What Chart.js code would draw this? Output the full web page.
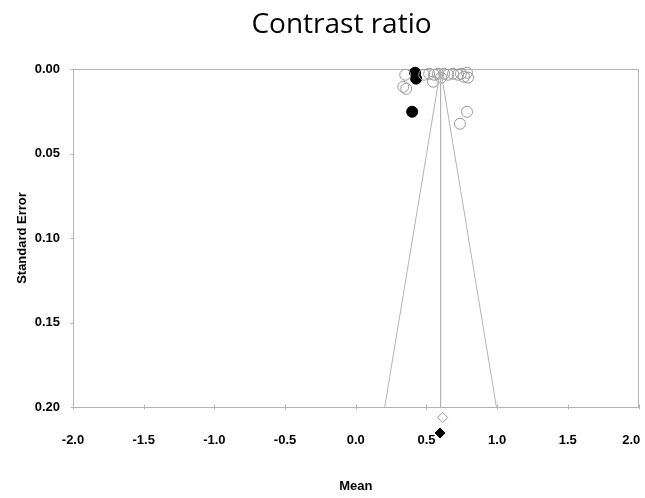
<!DOCTYPE html>
<html>
<head>
<meta charset="utf-8">
<script src="https://cdn.jsdelivr.net/npm/chart.js@4"></script>
<style>
  html, body { margin: 0; padding: 0; background: #fff; }
</style>
</head>
<body>
<canvas id="funnel" width="645" height="498"></canvas>
<script>
// studies (open circles)
const openMean = [0.350, 0.336, 0.357, 0.484, 0.519, 0.547, 0.554, 0.582, 0.603, 0.625, 0.653, 0.688, 0.723, 0.744, 0.766, 0.787, 0.794, 0.787, 0.737];
const openSE   = [0.0034, 0.0105, 0.0117, 0.0034, 0.0028, 0.0075, 0.0034, 0.0028, 0.0051, 0.0028, 0.0034, 0.0028, 0.0034, 0.0028, 0.0046, 0.0022, 0.0051, 0.0253, 0.0324];

// imputed studies (filled circles)
const filledMean = [0.420, 0.427, 0.399];
const filledSE   = [0.0022, 0.0057, 0.0253];

// pooled estimates (diamonds, below the axis)
const pooledOpen = [0.615, 0.2062];
const pooledFilled = [0.596, 0.2154];

// funnel: apex and both ends at SE 0.20
const funnelMean = [0.205, 0.600, 0.995];
const funnelSE = [0.20, 0.00, 0.20];
const centerLine = [0.600, 0.600];
const centerSE = [0.00, 0.20];

const xTicks = [-2.0, -1.5, -1.0, -0.5, 0.0, 0.5, 1.0, 1.5, 2.0];
const yTicks = [0.00, 0.05, 0.10, 0.15, 0.20];

const GREY = '#b3b3b3';
const tickFont = { family: 'Liberation Sans, Arial, sans-serif', size: 13, weight: 'bold' };

function pts(xs, ys) {
  return xs.map((v, i) => ({ x: v, y: ys[i] }));
}

// frame, small tick marks, and let points below the box be drawn
let savedArea = null;
const framePlugin = {
  id: 'frame',
  afterLayout(chart) {
    // title sits a bit right of centre in the original
    chart.titleBlock.left += 42;
  },
  beforeDatasetsDraw(chart) {
    const { ctx, chartArea: a, scales } = chart;
    const top = Math.round(a.top) + 0.5;
    const bottom = Math.round(a.bottom) + 0.5;
    const left = Math.round(a.left) + 0.5;
    const right = Math.round(a.right) - 0.5;
    ctx.save();
    ctx.strokeStyle = GREY;
    ctx.lineWidth = 1;
    ctx.strokeRect(left, top, right - left, bottom - top);
    ctx.beginPath();
    xTicks.forEach(t => {
      const px = Math.round(scales.x.getPixelForValue(t)) + 0.5;
      ctx.moveTo(px, bottom - 3);
      ctx.lineTo(px, bottom + 2);
    });
    yTicks.forEach(t => {
      const py = Math.round(scales.y.getPixelForValue(t)) + 0.5;
      ctx.moveTo(left - 3, py);
      ctx.lineTo(left, py);
    });
    ctx.stroke();
    ctx.restore();
    // diamonds live under the axis line, widen the drawing area for them
    savedArea = chart.chartArea;
    chart.chartArea = Object.assign({}, a, { bottom: a.bottom + 40 });
  },
  afterDatasetsDraw(chart) {
    if (savedArea) chart.chartArea = savedArea;
    savedArea = null;
  }
};

const data = {
  datasets: [
    {
      label: 'funnel',
      data: pts(funnelMean, funnelSE),
      showLine: true,
      borderColor: GREY,
      borderWidth: 1,
      pointRadius: 0,
      clip: false
    },
    {
      label: 'centre',
      data: pts(centerLine, centerSE),
      showLine: true,
      borderColor: GREY,
      borderWidth: 1,
      pointRadius: 0,
      clip: false
    },
    {
      label: 'studies',
      data: pts(openMean, openSE),
      pointStyle: 'circle',
      pointRadius: 5.5,
      backgroundColor: 'rgba(255,255,255,0)',
      borderColor: '#9a9a9a',
      borderWidth: 1,
      clip: false
    },
    {
      label: 'filled',
      data: pts(filledMean, filledSE),
      pointStyle: 'circle',
      pointRadius: 5.5,
      backgroundColor: '#000',
      borderColor: '#000',
      borderWidth: 1,
      clip: false
    },
    {
      label: 'pooled',
      data: [{ x: pooledOpen[0], y: pooledOpen[1] }],
      pointStyle: 'rectRot',
      pointRadius: 5,
      backgroundColor: '#fff',
      borderColor: '#9a9a9a',
      borderWidth: 1,
      clip: false
    },
    {
      label: 'pooled filled',
      data: [{ x: pooledFilled[0], y: pooledFilled[1] }],
      pointStyle: 'rectRot',
      pointRadius: 5,
      backgroundColor: '#000',
      borderColor: '#000',
      borderWidth: 1,
      clip: false
    }
  ]
};

const config = {
  type: 'scatter',
  data: data,
  options: {
    responsive: false,
    animation: false,
    layout: { padding: { left: 0, right: 4, top: 0, bottom: 0 } },
    plugins: {
      legend: { display: false },
      tooltip: { enabled: false },
      title: {
        display: true,
        text: 'Contrast ratio',
        color: '#000',
        font: { family: 'Open Sans', size: 28, weight: 'normal' },
        padding: { top: 8, bottom: 27.4 }
      }
    },
    scales: {
      x: {
        type: 'linear',
        min: -2,
        max: 2,
        afterBuildTicks: s => { s.ticks = xTicks.map(v => ({ value: v })); },
        afterFit: s => { s.height = 91; s.paddingRight = 0; },
        grid: { display: false, drawTicks: false },
        border: { display: false },
        ticks: {
          color: '#000',
          font: tickFont,
          padding: 26,
          maxRotation: 0,
          callback: v => v === 2 ? '2.0    ' : v.toFixed(1)
        },
        title: {
          display: true,
          text: 'Mean',
          color: '#000',
          font: tickFont,
          padding: { top: 4, bottom: 4 }
        }
      },
      y: {
        type: 'linear',
        reverse: true,
        min: 0,
        max: 0.2,
        afterBuildTicks: s => { s.ticks = yTicks.map(v => ({ value: v })); },
        afterFit: s => { s.width = 73; },
        grid: { display: false, drawTicks: false },
        border: { display: false },
        ticks: {
          color: '#000',
          font: tickFont,
          padding: 13,
          callback: v => v.toFixed(2)
        },
        title: {
          display: true,
          text: 'Standard Error',
          color: '#000',
          font: tickFont,
          padding: { top: 15, bottom: 0 }
        }
      }
    }
  },
  plugins: [framePlugin]
};

const chart = new Chart(document.getElementById('funnel'), config);
</script>
</body>
</html>
